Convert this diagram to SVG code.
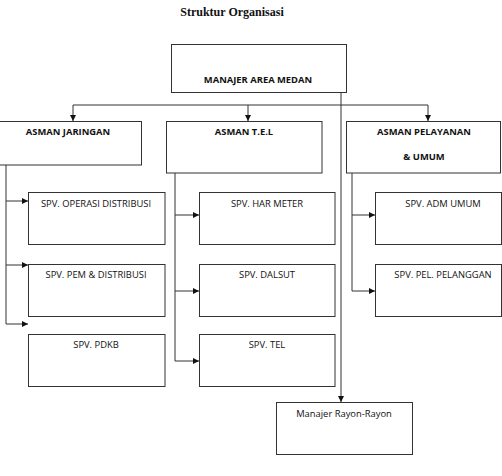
<svg xmlns="http://www.w3.org/2000/svg" width="502" height="476" viewBox="0 0 502 476">
<style>
.box{fill:#fff;stroke:#333;stroke-width:1}
.t{font-family:"Open Sans","Liberation Sans",sans-serif;font-size:9.4px;fill:#111;text-anchor:middle}
.b{font-weight:bold}
.c{fill:none;stroke:#333;stroke-width:1}
</style>
<defs>
<marker id="ar" markerWidth="6" markerHeight="6" refX="6" refY="3" orient="auto" markerUnits="userSpaceOnUse">
<path d="M0,0 L6,3 L0,6 Z" fill="#111"/>
</marker>
</defs>
<rect width="502" height="476" fill="#fff"/>
<text x="232" y="16" font-family="Liberation Serif,serif" font-weight="bold" font-size="12" text-anchor="middle" fill="#111">Struktur Organisasi</text>
<g id="connectors">
<path class="c" d="M73,105 H428"/>
<path class="c" d="M73,105 V121" marker-end="url(#ar)"/>
<path class="c" d="M248,105 V121" marker-end="url(#ar)"/>
<path class="c" d="M428,105 V121" marker-end="url(#ar)"/>
<path class="c" d="M341,92 V402" marker-end="url(#ar)"/>
<path class="c" d="M6,165 V324"/>
<path class="c" d="M6,201 H28" marker-end="url(#ar)"/>
<path class="c" d="M6,265 H28" marker-end="url(#ar)"/>
<path class="c" d="M6,324 H28" marker-end="url(#ar)"/>
<path class="c" d="M175,173 V361"/>
<path class="c" d="M175,215 H199" marker-end="url(#ar)"/>
<path class="c" d="M175,291 H199" marker-end="url(#ar)"/>
<path class="c" d="M175,361 H199" marker-end="url(#ar)"/>
<path class="c" d="M352,173 V291"/>
<path class="c" d="M352,215 H375" marker-end="url(#ar)"/>
<path class="c" d="M352,291 H375" marker-end="url(#ar)"/>
</g>
<g id="manajer"><rect class="box" x="171.5" y="44.5" width="175" height="48"/><text class="t b" x="258" y="83">MANAJER AREA MEDAN</text></g>
<g id="asman-jaringan"><rect class="box" x="-1" y="121.5" width="142.5" height="43.5"/><text class="t b" x="68" y="135">ASMAN JARINGAN</text></g>
<g id="asman-tel"><rect class="box" x="166.5" y="121.5" width="155.5" height="51.5"/><text class="t b" x="244" y="135">ASMAN T.E.L</text></g>
<g id="asman-pelayanan"><rect class="box" x="346.5" y="121.5" width="154" height="51.5"/><text class="t b" x="424" y="135">ASMAN PELAYANAN</text><text class="t b" x="424" y="160">&amp; UMUM</text></g>
<g id="spv-operasi"><rect class="box" x="28.5" y="192.5" width="136.5" height="52"/><text class="t" x="96" y="207">SPV. OPERASI DISTRIBUSI</text></g>
<g id="spv-pem"><rect class="box" x="28.5" y="264.5" width="136.5" height="52"/><text class="t" x="96" y="278">SPV. PEM &amp; DISTRIBUSI</text></g>
<g id="spv-pdkb"><rect class="box" x="28.5" y="334.5" width="136.5" height="52"/><text class="t" x="96" y="348">SPV. PDKB</text></g>
<g id="spv-har"><rect class="box" x="199.5" y="192.5" width="135.5" height="52"/><text class="t" x="267" y="207">SPV. HAR METER</text></g>
<g id="spv-dalsut"><rect class="box" x="199.5" y="264.5" width="135.5" height="52"/><text class="t" x="267" y="278">SPV. DALSUT</text></g>
<g id="spv-tel"><rect class="box" x="199.5" y="334.5" width="135.5" height="52"/><text class="t" x="267" y="348">SPV. TEL</text></g>
<g id="spv-adm"><rect class="box" x="375.5" y="192.5" width="126" height="52"/><text class="t" x="443" y="207">SPV. ADM UMUM</text></g>
<g id="spv-pel"><rect class="box" x="375.5" y="264.5" width="126" height="52"/><text class="t" x="443" y="278">SPV. PEL. PELANGGAN</text></g>
<g id="rayon"><rect class="box" x="276.5" y="402.5" width="136" height="52"/><text class="t" x="344" y="417">Manajer Rayon-Rayon</text></g>
</svg>
